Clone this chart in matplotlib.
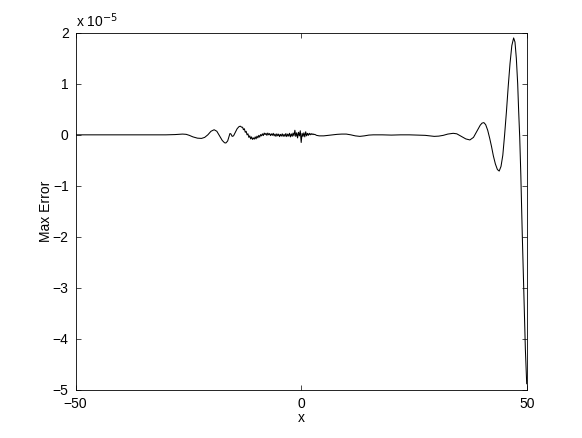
import numpy as np
import matplotlib
matplotlib.use("Agg")
import matplotlib.pyplot as plt

plt.rcParams['font.family'] = ['Liberation Sans', 'DejaVu Sans']

###########################################
# values, error in units of 1e-5

x_left = [-50, -45, -40, -35, -30, -28, -27, -26.3, -25.5, -24.8, -24, -23, -22.1,
          -21.4, -20.7, -20, -19.3, -18.7, -18.1, -17.5, -17.0, -16.7, -16.3, -16.0,
          -15.8, -15.6, -15.3, -15.0, -14.6, -14.2, -13.8, -13.5, -13.2]
err_left = [0, 0, 0, 0, 0, 0.005, 0.012, 0.015, 0.01, -0.01, -0.04, -0.065, -0.07,
            -0.05, 0.0, 0.07, 0.1, 0.07, -0.02, -0.11, -0.155, -0.16, -0.12, -0.03,
            0.025, 0.02, -0.03, -0.02, 0.05, 0.12, 0.16, 0.17, 0.15]

# noisy stretch around the origin, sampled every 0.2
x_noisy = list(np.round(np.arange(-13.0, 3.01, 0.2), 2))
err_noisy = [0.15, 0.10, 0.12, 0.05, 0.07, 0.00, 0.02, -0.05, -0.02, -0.08,
             -0.04, -0.09, -0.06, -0.085, -0.04, -0.08, -0.025, -0.06, -0.01, -0.045,
             0.005, -0.02, 0.02, -0.015, 0.035, 0.005, 0.03, -0.01, 0.035, 0.0,
             0.025, -0.015, 0.02, -0.01, 0.03, -0.02, 0.015, -0.03, 0.02, -0.02,
             0.015, -0.035, 0.01, -0.025, 0.02, -0.03, 0.01, -0.03, 0.025, -0.035,
             0.015, -0.025, 0.03, -0.04, 0.02, -0.03, 0.035, -0.02, 0.09, -0.03,
             0.04, -0.06, 0.05, -0.02, 0.08, -0.15, 0.03, -0.03, 0.04, -0.04,
             0.06, -0.02, 0.03, -0.01, 0.03, 0.0, 0.025, 0.005, 0.02, 0.005,
             0.01]

x_right = [3.4, 4, 5, 6, 7, 8, 9, 10, 11, 12, 13, 14, 15, 16, 18, 20, 22, 24, 26,
           27.5, 28.5, 29.5, 30.5, 31.5, 32.5, 33.7, 34.5, 35.5, 36.5, 37.4, 38.2,
           38.95, 39.7, 40.1, 40.5, 40.9, 41.35, 41.8, 42.2, 42.6, 43.05, 43.5, 43.9,
           44.3, 44.7, 45.1, 45.5, 45.9, 46.3, 46.7, 47.1, 47.4, 47.7, 48.0, 48.2,
           48.45, 48.7, 49.0, 49.3, 49.7, 50.0]
err_right = [-0.01, -0.02, -0.02, -0.01, 0.0, 0.01, 0.015, 0.015, 0.0, -0.02, -0.03,
             -0.02, -0.005, 0.0, 0.0, -0.005, 0.0, 0.0, -0.005, -0.01, -0.02, -0.03,
             -0.025, -0.01, 0.015, 0.03, 0.02, -0.03, -0.08, -0.1, -0.05, 0.07, 0.19,
             0.23, 0.24, 0.2, 0.09, -0.07, -0.23, -0.41, -0.57, -0.68, -0.71, -0.62,
             -0.4, 0.0, 0.45, 0.95, 1.4, 1.75, 1.9, 1.82, 1.5, 1.0, 0.5, -0.05, -0.8,
             -1.9, -2.9, -4.2, -4.88]

xs = np.array(x_left + x_noisy + x_right)
err = np.array(err_left + err_noisy + err_right)

###########################################
# plot, laid out like a default matlab figure

fig = plt.figure(figsize=(5.82, 4.38), dpi=100)
ax = fig.add_axes([0.13, 0.11, 0.775, 0.815])

ax.plot(xs, err, color="k", linewidth=0.75)

ax.set_xlim(-50, 50)
ax.set_ylim(-5, 2)
ax.set_xticks([-50, 0, 50])
ax.set_yticks(range(-5, 3))
ax.tick_params(direction="in", top=True, right=True, length=3.5, width=0.5,
               labelsize=10, pad=5)
for s in ax.spines.values():
    s.set_linewidth(0.6)

ax.set_xlabel("x", fontsize=10, labelpad=0)
ax.set_ylabel("Max Error", fontsize=10, labelpad=0)
ax.text(0.0, 1.008, r"x 10$^{-5}$", transform=ax.transAxes, fontsize=10,
        ha="left", va="bottom")

fig.savefig("out.png", dpi=100)
